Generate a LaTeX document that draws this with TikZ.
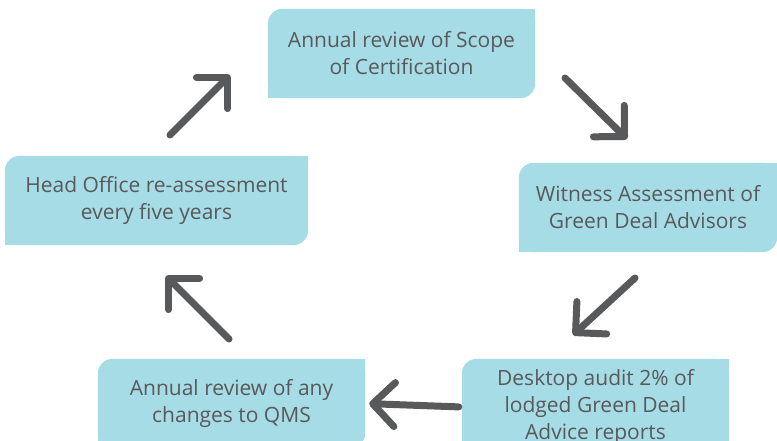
\documentclass[tikz,border=0pt]{standalone}
\usepackage{fontspec}
\setmainfont{Open Sans}
\usetikzlibrary{arrows.meta,backgrounds}
\definecolor{boxblue}{RGB}{166,220,230}
\definecolor{textgray}{RGB}{89,89,91}
\definecolor{arrowgray}{RGB}{88,89,91}

\begin{document}
\begin{tikzpicture}[x=1pt,y=-1pt,
    stage/.style={minimum width=267pt, minimum height=89pt, inner sep=0pt, align=center,
        text=textgray, font=\fontsize{21}{27}\selectfont},
    cyclearrow/.style={draw=arrowgray, line width=7pt, line cap=round,
        -{Straight Barb[length=22pt,width=44pt,line cap=round,line join=round]}}]
    \useasboundingbox (0,0) rectangle (777,441);

    % Stages
    \node[stage] (scope) at (401.5,53.5) {Annual review of Scope\\of Certification};
    \node[stage, minimum width=258pt] (witness) at (648,207.5) {Witness Assessment of\\Green Deal Advisors};
    \node[stage, minimum height=96pt] (desktop) at (595.5,407) {Desktop audit 2\% of\\lodged Green Deal\\Advice reports};
    \node[stage] (qms) at (231.5,403.5) {Annual review of any\\changes to QMS};
    \node[stage, minimum width=303pt] (head) at (156.5,200.5) {Head Office re-assessment\\every five years};

    % Box fills, rounded top left and bottom right
    \begin{scope}[on background layer]
    \foreach \n in {scope,witness,desktop,qms,head} {
        \fill[boxblue, rounded corners=15pt] (\n.south west) rectangle (\n.north east);
        \fill[boxblue] (\n.north east) rectangle +(-15,15);
        \fill[boxblue] (\n.south west) rectangle +(15,-15);
    }
    \end{scope}

    % Arrow ends
    \coordinate (upT) at (170,135);   \coordinate (upH) at (230,75);
    \coordinate (dnT) at (565,78);    \coordinate (dnH) at (627,139);
    \coordinate (dlT) at (635,278);   \coordinate (dlH) at (573,335);
    \coordinate (ulT) at (229,339);   \coordinate (ulH) at (166,276);

    % Arrows
    \foreach \a/\b in {upT/upH, dnT/dnH, dlT/dlH, ulT/ulH}
        \draw[cyclearrow] (\a) -- (\b);
    \draw[cyclearrow, shorten <=3pt, shorten >=4pt] (desktop.west) -- (qms.east);
\end{tikzpicture}
\end{document}
